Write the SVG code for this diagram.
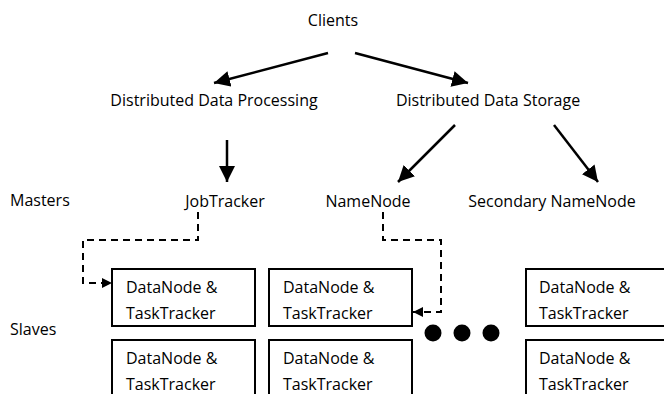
<svg xmlns="http://www.w3.org/2000/svg" width="664" height="394" viewBox="0 0 664 394">
<style>
text{font-family:"Open Sans","Liberation Sans",sans-serif;font-size:16px;fill:#000}
.box{fill:#fff;stroke:#000;stroke-width:2}
.solid{fill:none;stroke:#000;stroke-width:2.5}
.dash{fill:none;stroke:#000;stroke-width:2;stroke-dasharray:7,5}
</style>
<defs>
<marker id="ah" viewBox="0 0 10 10" refX="10" refY="5" markerWidth="6.4" markerHeight="6.4" markerUnits="strokeWidth" orient="auto"><path d="M0,0 L10,5 L0,10 z" fill="#000"/></marker>
<marker id="ahd" viewBox="0 0 10 10" refX="10" refY="5" markerWidth="6" markerHeight="5" markerUnits="strokeWidth" orient="auto"><path d="M0,0 L10,5 L0,10 z" fill="#000"/></marker>
</defs>
<g id="labels">
<text x="333" y="26" text-anchor="middle">Clients</text>
<text x="10" y="206">Masters</text>
<text x="10" y="335">Slaves</text>
</g>
<g id="ddp"><text x="214" y="106" text-anchor="middle">Distributed Data Processing</text></g>
<g id="dds"><text x="488" y="106" text-anchor="middle">Distributed Data Storage</text></g>
<g id="jobtracker"><text x="225" y="207" text-anchor="middle">JobTracker</text></g>
<g id="namenode"><text x="368" y="207" text-anchor="middle">NameNode</text></g>
<g id="secnamenode"><text x="552" y="207" text-anchor="middle">Secondary NameNode</text></g>
<g id="connectors">
<line class="solid" x1="328" y1="53" x2="214" y2="83" marker-end="url(#ah)"/>
<line class="solid" x1="355" y1="53" x2="468" y2="83" marker-end="url(#ah)"/>
<line class="solid" x1="227" y1="140" x2="227" y2="182" marker-end="url(#ah)"/>
<line class="solid" x1="455" y1="125" x2="398" y2="182" marker-end="url(#ah)"/>
<line class="solid" x1="554" y1="125" x2="598" y2="182" marker-end="url(#ah)"/>
<path class="dash" d="M198,212 V240 H83 V283 H112" marker-end="url(#ahd)"/>
<path class="dash" d="M383,212 V240 H441 V312 H413" marker-end="url(#ahd)"/>
</g>
<g id="node1"><rect class="box" x="112" y="269" width="143" height="57"/><text x="126" y="293">DataNode &amp;</text><text x="126" y="319">TaskTracker</text></g>
<g id="node2"><rect class="box" x="269" y="269" width="143" height="57"/><text x="283" y="293">DataNode &amp;</text><text x="283" y="319">TaskTracker</text></g>
<g id="node3"><rect class="box" x="526" y="269" width="143" height="57"/><text x="539" y="293">DataNode &amp;</text><text x="539" y="319">TaskTracker</text></g>
<g id="node4"><rect class="box" x="112" y="340" width="143" height="60"/><text x="126" y="364">DataNode &amp;</text><text x="126" y="390">TaskTracker</text></g>
<g id="node5"><rect class="box" x="269" y="340" width="143" height="60"/><text x="283" y="364">DataNode &amp;</text><text x="283" y="390">TaskTracker</text></g>
<g id="node6"><rect class="box" x="526" y="340" width="143" height="60"/><text x="539" y="364">DataNode &amp;</text><text x="539" y="390">TaskTracker</text></g>
<g id="ellipsis"><circle cx="433" cy="333" r="8.5"/><circle cx="462" cy="333" r="8.5"/><circle cx="491" cy="333" r="8.5"/></g>
</svg>
